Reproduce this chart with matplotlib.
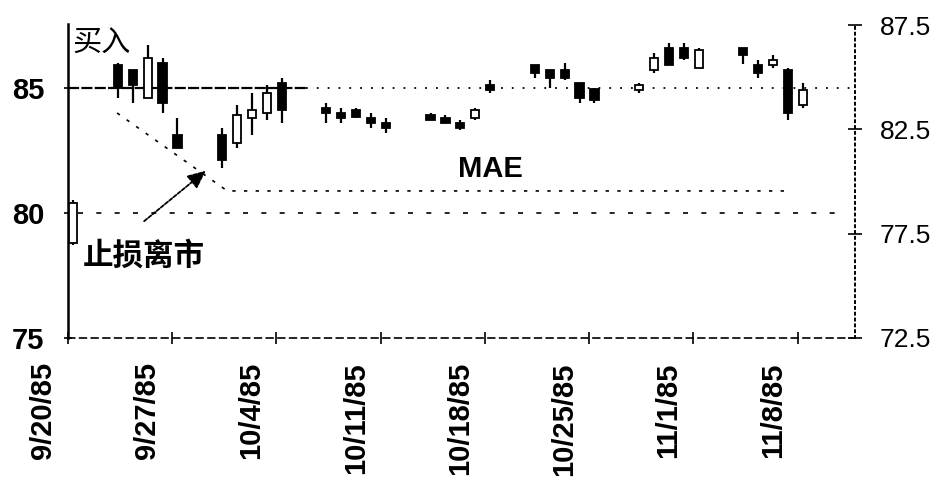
import numpy as np
import pandas as pd
import matplotlib
matplotlib.use('Agg')
import matplotlib.pyplot as plt
from matplotlib.transforms import ScaledTranslation

plt.rcParams['font.family'] = ['Liberation Sans', 'Noto Sans CJK SC', 'DejaVu Sans']

START = '1985-09-20'
dates = ['1985-09-20', '1985-09-23', '1985-09-24', '1985-09-25', '1985-09-26', '1985-09-27',
         '1985-09-30', '1985-10-01', '1985-10-02', '1985-10-03', '1985-10-04',
         '1985-10-07', '1985-10-08', '1985-10-09', '1985-10-10', '1985-10-11',
         '1985-10-14', '1985-10-15', '1985-10-16', '1985-10-17', '1985-10-18',
         '1985-10-21', '1985-10-22', '1985-10-23', '1985-10-24', '1985-10-25',
         '1985-10-28', '1985-10-29', '1985-10-30', '1985-10-31', '1985-11-01',
         '1985-11-04', '1985-11-05', '1985-11-06', '1985-11-07', '1985-11-08']
opens  = [78.8, 85.9, 85.7, 84.6, 86.0, 83.1, 83.1, 82.8, 83.8, 84.0, 85.2,
          84.2, 84.0, 84.1, 83.8, 83.6, 83.9, 83.8, 83.6, 83.8, 85.1,
          85.9, 85.7, 85.7, 85.2, 84.95, 84.9, 85.7, 86.6, 86.6, 85.8,
          86.6, 85.9, 85.9, 85.7, 84.3]
highs  = [80.5, 86.0, 85.7, 86.7, 86.2, 83.8, 83.4, 84.3, 84.8, 85.1, 85.4,
          84.4, 84.2, 84.2, 84.0, 83.8, 84.0, 83.9, 83.7, 84.2, 85.3,
          85.9, 85.7, 86.0, 85.2, 85.0, 85.2, 86.4, 86.8, 86.8, 86.6,
          86.6, 86.1, 86.3, 85.8, 85.2]
lows   = [78.7, 84.6, 84.4, 84.6, 84.0, 82.6, 81.8, 82.6, 83.1, 83.7, 83.6,
          83.6, 83.6, 83.8, 83.4, 83.2, 83.7, 83.6, 83.3, 83.7, 84.8,
          85.4, 85.0, 85.3, 84.4, 84.4, 84.8, 85.6, 85.9, 86.1, 85.8,
          85.96, 85.4, 85.8, 83.7, 84.2]
closes = [80.4, 85.0, 85.1, 86.2, 84.4, 82.6, 82.1, 83.9, 84.1, 84.8, 84.1,
          84.0, 83.8, 83.85, 83.6, 83.4, 83.7, 83.6, 83.4, 84.1, 84.9,
          85.6, 85.4, 85.4, 84.6, 84.5, 85.1, 86.2, 85.9, 86.2, 86.5,
          86.3, 85.6, 86.1, 84.0, 84.9]

tick_dates = ['1985-09-20', '1985-09-27', '1985-10-04', '1985-10-11',
              '1985-10-18', '1985-10-25', '1985-11-01', '1985-11-08']
tick_labels = ['9/20/85', '9/27/85', '10/4/85', '10/11/85',
               '10/18/85', '10/25/85', '11/1/85', '11/8/85']
left_ticks = [75, 80, 85]
right_ticks = [72.5, 77.5, 82.5, 87.5]

ENTRY = 85.0
STOP = 80.0
MAE_LEVEL = 80.88

start = pd.Timestamp(START)
day = np.array([(pd.Timestamp(d) - start).days for d in dates]) + 0.35
tick_pos = [(pd.Timestamp(d) - start).days for d in tick_dates]

fig, ax = plt.subplots(figsize=(9.4, 4.8), dpi=100)
fig.subplots_adjust(left=0.0723, right=0.9096, bottom=0.296, top=0.95)

# reference lines
ax.plot([0, 16], [ENTRY, ENTRY], color='black', lw=1.6, ls=(0, (5, 1)), zorder=1)
ax.plot([16, 52.5], [ENTRY, ENTRY], color='black', lw=1.3, ls=(0, (1, 5)), zorder=1)
ax.plot([0.7, 51.5], [STOP, STOP], color='black', lw=1.2, ls=(0, (3, 8)), zorder=1)
ax.plot([3.3, 10.7, 48.5], [84.0, MAE_LEVEL, MAE_LEVEL], color='black', lw=1.2,
        ls=(0, (2, 5)), zorder=1)

# candles
w = 0.55
for x, o, h, l, c in zip(day, opens, highs, lows, closes):
    ax.vlines(x, l, h, color='black', lw=1.6, zorder=2)
    filled = c < o
    ax.bar(x, abs(c - o) if abs(c - o) > 0.05 else 0.08, bottom=min(o, c), width=w,
           color='black' if filled else 'white', edgecolor='black', lw=1.3, zorder=3)

ax.set_xlim(0, 52.85)
ax.set_ylim(75, 87.56)
ax.set_yticks(left_ticks)
ax.set_yticklabels([str(t) for t in left_ticks], fontsize=21, fontweight='bold')
ax.tick_params(axis='y', direction='inout', length=6, width=1.2, pad=14)
ax.set_xticks(tick_pos)
ax.set_xticklabels(tick_labels, rotation=90, fontsize=21, fontweight='bold', va='top', ha='center')
ax.tick_params(axis='x', direction='inout', length=9, width=1.2, pad=13)
for lab in ax.get_xticklabels():
    lab.set_transform(lab.get_transform() + ScaledTranslation(-0.25, 0, fig.dpi_scale_trans))

ax.spines['top'].set_visible(False)
ax.spines['right'].set_visible(False)
ax.spines['left'].set_linewidth(1.8)
ax.spines['bottom'].set_linestyle((0, (4, 3)))
ax.spines['bottom'].set_linewidth(1.2)

ax2 = ax.twinx()
ax2.set_ylim(72.5, 87.5 + 0.05)
ax2.set_yticks(right_ticks)
ax2.set_yticklabels([str(t) for t in right_ticks], fontsize=19)
ax2.tick_params(axis='y', direction='inout', length=10, width=1.2, pad=13)
for s in ['top', 'left', 'bottom']:
    ax2.spines[s].set_visible(False)
ax2.spines['right'].set_linestyle((0, (1, 2)))
ax2.spines['right'].set_linewidth(1.4)

# annotations
ax.text(0.3, 86.76, '买入', fontsize=21, family=['Noto Sans CJK SC'], ha='left', va='center')
ax.text(1.0, 78.3, '止损离市', fontsize=22, fontweight='bold', family=['Noto Sans CJK SC'],
        ha='left', va='center')
ax.text(28.4, 81.76, 'MAE', fontsize=21, fontweight='bold', ha='center', va='center')
ax.annotate('', xy=(9.4, 81.76), xytext=(4.97, 79.6),
            arrowprops=dict(arrowstyle='-|>,head_length=1.1,head_width=0.5',
                            color='black', lw=1.3, ls=(0, (2, 1))))

plt.savefig('out.png', dpi=100)
